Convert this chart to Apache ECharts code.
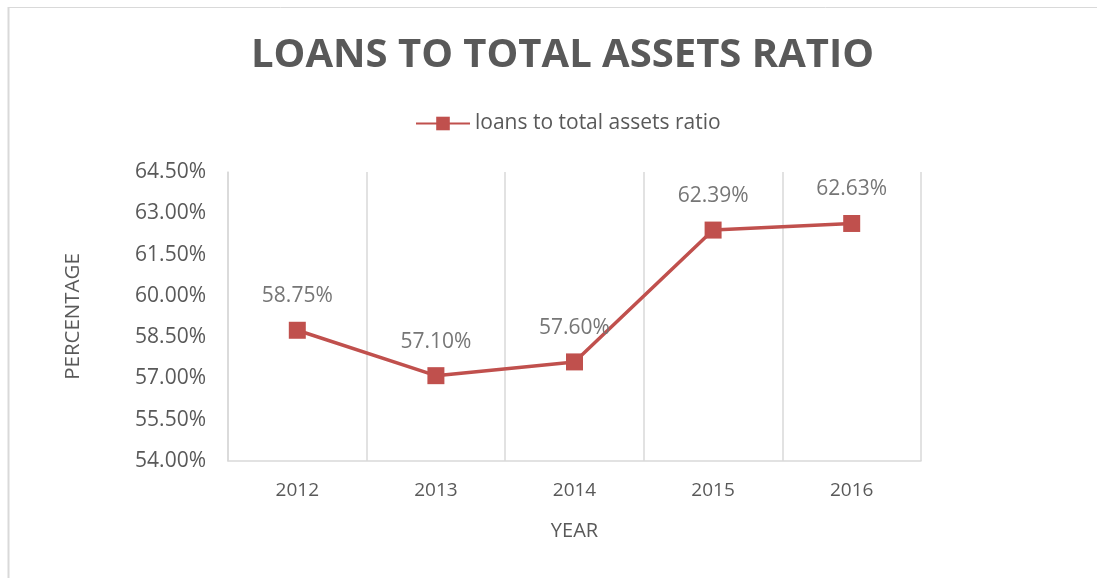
<!DOCTYPE html>
<html>
<head>
<meta charset="utf-8">
<script src="https://cdn.jsdelivr.net/npm/echarts@6/dist/echarts.min.js"></script>
<style>html,body{margin:0;padding:0;background:#fff}#c{width:1097px;height:578px}</style>
</head>
<body>
<div id="c"></div>
<script>
var categories = ['2012', '2013', '2014', '2015', '2016'];
var ratioValues = [58.75, 57.10, 57.60, 62.39, 62.63];
var seriesName = 'loans to total assets ratio';
var titleText = 'LOANS TO TOTAL ASSETS RATIO';
var yMin = 54, yMax = 64.5, yStep = 1.5;

var chart = echarts.init(document.getElementById('c'), null, {renderer: 'canvas'});
var font = '"Open Sans", "Noto Sans", sans-serif';
chart.setOption({
  animation: false,
  backgroundColor: '#ffffff',
  title: {
    text: titleText,
    left: 246,
    top: 31,
    textStyle: {fontFamily: font, fontSize: 40, fontWeight: 'bold', color: '#595959'}
  },
  legend: {
    data: [seriesName],
    top: 108,
    left: 410,
    itemWidth: 54,
    itemHeight: 17,
    itemGap: 4,
    textStyle: {fontFamily: font, fontSize: 21, color: '#595959'}
  },
  grid: {left: 228, right: 176, top: 172, bottom: 117, containLabel: false},
  xAxis: {
    type: 'category',
    data: categories,
    boundaryGap: true,
    name: 'YEAR',
    nameLocation: 'middle',
    nameGap: 60,
    nameTextStyle: {fontFamily: font, fontSize: 20, color: '#595959'},
    axisLine: {show: true, lineStyle: {color: '#d9d9d9', width: 1.5}},
    axisTick: {show: false},
    splitLine: {show: true, lineStyle: {color: '#d9d9d9', width: 1.5}},
    axisLabel: {fontFamily: font, fontSize: 19, color: '#595959', margin: 20}
  },
  yAxis: {
    type: 'value',
    min: yMin,
    max: yMax,
    interval: yStep,
    name: 'PERCENTAGE',
    nameLocation: 'middle',
    nameGap: 144,
    nameTextStyle: {fontFamily: font, fontSize: 20.5, color: '#595959'},
    axisLine: {show: true, lineStyle: {color: '#d9d9d9', width: 1.5}},
    axisTick: {show: false},
    splitLine: {show: false},
    axisLabel: {
      fontFamily: font, fontSize: 21, color: '#595959', margin: 22,
      formatter: function (v) { return v.toFixed(2) + '%'; }
    }
  },
  series: [{
    name: seriesName,
    type: 'line',
    data: ratioValues,
    symbol: 'rect',
    symbolSize: 17,
    itemStyle: {color: '#c0504d'},
    lineStyle: {color: '#c0504d', width: 3.5},
    label: {
      show: true,
      position: 'top',
      distance: 15,
      fontFamily: font,
      fontSize: 21,
      color: '#767676',
      formatter: function (p) { return p.value.toFixed(2) + '%'; }
    }
  }],
  graphic: [
    {type: 'line', shape: {x1: 8.5, y1: 7, x2: 8.5, y2: 600}, style: {stroke: '#d9d9d9', lineWidth: 2}},
    {type: 'line', shape: {x1: 8, y1: 7.5, x2: 1100, y2: 7.5}, style: {stroke: '#d9d9d9', lineWidth: 1}}
  ]
});
</script>
</body>
</html>
